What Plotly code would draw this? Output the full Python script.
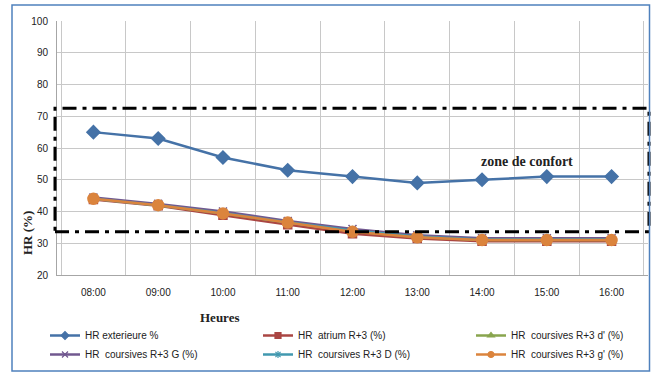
import plotly.graph_objects as go

hours = ["08:00", "09:00", "10:00", "11:00", "12:00", "13:00", "14:00", "15:00", "16:00"]
hr_ext = [65, 63, 57, 53, 51, 49, 50, 51, 51]
hr_atrium = [43.8, 41.8, 38.8, 35.8, 33.0, 31.5, 30.6, 30.6, 30.6]
hr_d_prime = [44, 42, 39.4, 36.5, 33.8, 32.0, 31.0, 31.0, 31.0]
hr_G = [44.4, 42.4, 40.0, 37.0, 34.5, 32.5, 31.6, 31.6, 31.6]
hr_D = [44, 42, 39.5, 36.6, 34.0, 32.1, 31.2, 31.2, 31.2]
hr_g_prime = [44, 42, 39.4, 36.5, 33.6, 31.9, 31.0, 31.0, 31.0]

names = ["HR exterieure %", "HR  atrium R+3 (%)", "HR  coursives R+3 d' (%)",
         "HR  coursives R+3 G (%)", "HR  coursives R+3 D (%)", "HR  coursives R+3 g' (%)"]
series = [hr_ext, hr_atrium, hr_d_prime, hr_G, hr_D, hr_g_prime]
colors = ["#4572A7", "#AA4643", "#89A54E", "#71588F", "#4198AF", "#DB843D"]
symbols = ["diamond", "square", "triangle-up", "x-thin-open", "asterisk-open", "circle"]
sizes = [10, 8, 8, 8, 8, 11]
legend_sizes = [6, 6, 6, 6, 6, 6]

comfort_low, comfort_high = 33.6, 72.5

fig = go.Figure()
for n, s, c, sym, sz in zip(names, series, colors, symbols, sizes):
    fig.add_trace(go.Scatter(
        x=hours, y=s, name=n, mode="lines+markers", showlegend=False, legendgroup=n,
        line=dict(color=c, width=2.5),
        marker=dict(symbol=sym, size=sz, color=c, line=dict(color=c, width=1.5)),
    ))
# legend entries with small markers (same series, no drawn points)
for n, c, sym, lsz in zip(names, colors, symbols, legend_sizes):
    fig.add_trace(go.Scatter(
        x=[None], y=[None], name=n, mode="lines+markers", legendgroup=n,
        line=dict(color=c, width=2.5),
        marker=dict(symbol=sym, size=lsz, color=c, line=dict(color=c, width=1.2)),
    ))

L, R, T, B = 57, 7, 21, 97
W, H = 655, 372
pw = W - L - R
ph = H - T - B

def px_x(p):
    return (p - L) / pw

def px_y(p):
    return (H - B - p) / ph

serif = "Liberation Serif, DejaVu Serif, serif"

fig.update_layout(
    width=W, height=H,
    margin=dict(l=L, r=R, t=T, b=B, autoexpand=False),
    paper_bgcolor="white", plot_bgcolor="white",
    font=dict(family="Liberation Sans, Arial, sans-serif", size=10, color="#222"),
    showlegend=True,
    legend=dict(
        orientation="h", x=px_x(45), y=px_y(321), xanchor="left", yanchor="top",
        font=dict(family="Liberation Sans Narrow, Liberation Sans, Arial", size=10, color="#222"),
        itemwidth=30, entrywidth=168, tracegroupgap=0,
        bgcolor="rgba(0,0,0,0)",
    ),
    xaxis=dict(
        type="category", tickson="boundaries", showgrid=True, gridcolor="#C8C8C8", gridwidth=1,
        showline=True, linecolor="#A6A6A6", linewidth=1, ticks="", zeroline=False,
        tickfont=dict(size=10, color="#222"), ticklabelstandoff=8,
    ),
    yaxis=dict(
        range=[20, 100], dtick=10, tick0=20, showgrid=True, gridcolor="#C8C8C8", gridwidth=1,
        showline=True, linecolor="#A6A6A6", linewidth=1, ticks="", zeroline=False,
        tickfont=dict(size=10, color="#222"), ticklabelstandoff=6,
    ),
    shapes=[
        dict(type="rect", xref="paper", yref="y", x0=px_x(55), x1=px_x(649),
             y0=comfort_low, y1=comfort_high,
             line=dict(color="black", width=3, dash="14px,6px,4px,6px")),
        dict(type="rect", xref="paper", yref="paper", x0=px_x(12), x1=px_x(649.5),
             y0=px_y(371), y1=px_y(5),
             line=dict(color="#4F81BD", width=1.5)),
    ],
    annotations=[
        dict(text="<b>zone de confort</b>", xref="paper", yref="y", x=px_x(527), y=55.6,
             xanchor="center", yanchor="middle", showarrow=False,
             font=dict(family=serif, size=14, color="#222")),
        dict(text="<b>HR (%)</b>", xref="paper", yref="paper", x=px_x(27), y=px_y(233),
             xanchor="center", yanchor="middle", textangle=-90, showarrow=False,
             font=dict(family=serif, size=13, color="#222")),
        dict(text="<b>Heures</b>", xref="paper", yref="paper", x=px_x(219), y=px_y(317),
             xanchor="center", yanchor="middle", showarrow=False,
             font=dict(family=serif, size=13, color="#222")),
    ],
)

fig.write_html("out.html")
